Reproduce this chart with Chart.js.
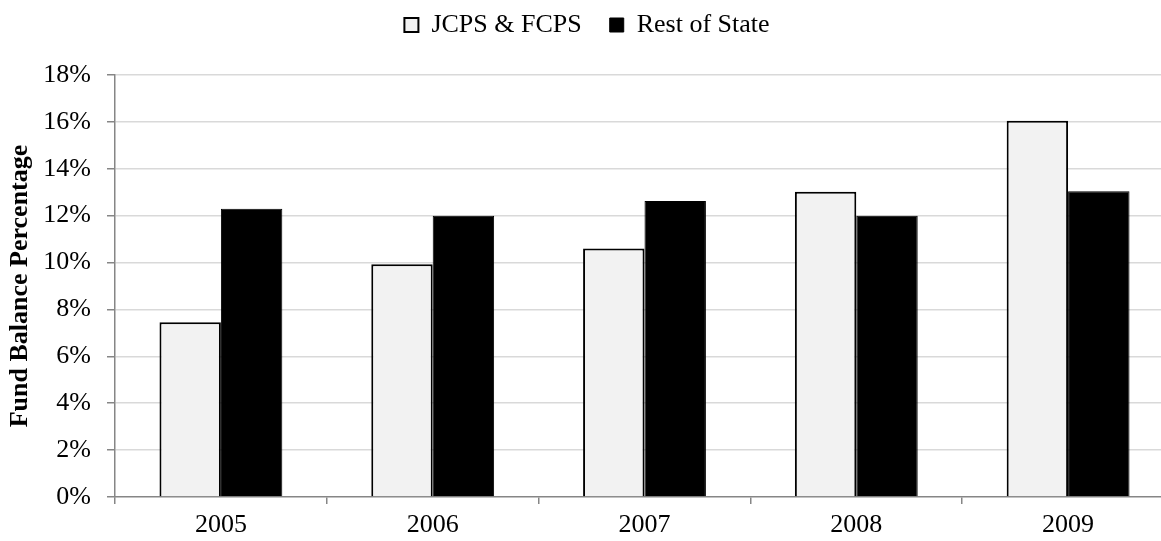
<!DOCTYPE html>
<html>
<head>
<meta charset="utf-8">
<script src="https://cdn.jsdelivr.net/npm/chart.js@4/dist/chart.umd.min.js"></script>
<style>
html,body{margin:0;padding:0;background:#fff;overflow:hidden;}
#wrap{position:absolute;left:0;top:0;width:1180px;height:541px;}
</style>
</head>
<body>
<div id="wrap"><canvas id="c"></canvas></div>
<script>
const categories = ['2005', '2006', '2007', '2008', '2009'];
const jcpsFcps = [7.45, 9.93, 10.6, 13.02, 16.05];
const restOfState = [12.3, 12.0, 12.63, 12.0, 13.04];
const seriesNames = ['JCPS & FCPS', 'Rest of State'];
const yTicks = [0, 2, 4, 6, 8, 10, 12, 14, 16, 18];
const yTitle = 'Fund Balance Percentage';

const FONT = "'Liberation Serif', 'Times New Roman', serif";

const legendFix = {
  id: 'legendFix',
  afterInit(chart) {
    const lg = chart.legend;
    if (!lg) return;
    const orig = lg.fit;
    lg.fit = function () { orig.call(this); this.height = 91; };
  }
};

new Chart(document.getElementById('c'), {
  type: 'bar',
  data: {
    labels: categories,
    datasets: [
      {
        label: seriesNames[0],
        data: jcpsFcps,
        backgroundColor: '#f2f2f2',
        borderColor: '#000',
        borderWidth: 2,
        categoryPercentage: 0.58,
        barPercentage: 1
      },
      {
        label: seriesNames[1],
        data: restOfState,
        backgroundColor: '#000',
        borderColor: '#000',
        borderWidth: 1,
        categoryPercentage: 0.58,
        barPercentage: 1
      }
    ]
  },
  options: {
    responsive: true,
    maintainAspectRatio: false,
    animation: false,
    layout: { padding: { top: -16, left: 0, right: 6, bottom: 0 } },
    plugins: {
      tooltip: { enabled: false },
      legend: {
        position: 'top',
        labels: {
          font: { family: FONT, size: 26 },
          color: '#000',
          boxWidth: 14,
          boxHeight: 14,
          padding: 28
        }
      }
    },
    scales: {
      x: {
        z: 1,
        grid: {
          drawOnChartArea: false,
          offset: true,
          tickLength: 7,
          tickColor: '#868686',
          lineWidth: 1.5
        },
        border: { color: '#868686', width: 1.5 },
        ticks: {
          font: { family: FONT, size: 26 },
          color: '#000',
          padding: 6
        },
        afterFit(s) { s.height = 44; }
      },
      y: {
        min: 0,
        max: 18,
        afterBuildTicks(s) { s.ticks = yTicks.map(v => ({ value: v })); },
        grid: {
          color: (ctx) => ctx.tick && ctx.tick.value === 0 ? 'rgba(0,0,0,0)' : '#d9d9d9',
          tickColor: '#868686',
          tickLength: 8,
          lineWidth: 1.5
        },
        border: { color: '#868686', width: 1.5 },
        ticks: {
          font: { family: FONT, size: 26 },
          color: '#000',
          padding: 16,
          callback: (v) => v + '%'
        },
        title: {
          display: true,
          text: yTitle,
          font: { family: FONT, size: 26, weight: 'bold' },
          color: '#000',
          padding: { top: 5, bottom: 0 }
        },
        afterFit(s) { s.width = 115; }
      }
    }
  },
  plugins: [legendFix]
});
</script>
</body>
</html>
